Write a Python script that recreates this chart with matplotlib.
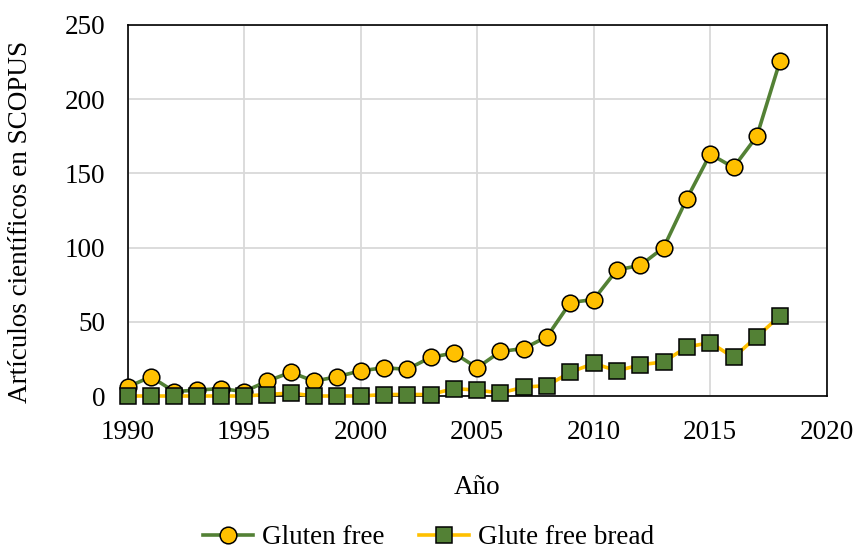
import matplotlib
matplotlib.use("Agg")
import matplotlib.pyplot as plt

plt.rcParams['font.family'] = ['Liberation Serif', 'DejaVu Serif']

years = list(range(1990, 2019))
gluten_free = [6, 13, 3, 4, 5, 3, 10, 16, 10, 13, 17, 19, 18, 26, 29, 19,
               30, 32, 40, 63, 65, 85, 88, 100, 133, 163, 154, 175, 226]
gluten_free_bread = [0, 0, 0, 0, 0, 0, 1, 2, 0, 0, 0, 1, 1, 1, 5, 4,
                     2, 6, 7, 16, 22, 17, 21, 23, 33, 36, 26, 40, 54]

green = '#538135'
yellow = '#FFC000'
fs = 19.5

fig = plt.figure(figsize=(8.57, 5.53), dpi=100)
ax = fig.add_axes([0.1488, 0.2839, 0.8159, 0.6709])

ax.plot(years, gluten_free, color=green, lw=2.6, marker='o', ms=12,
        mfc=yellow, mec='black', mew=1.1, label='Gluten free', zorder=3,
        clip_on=False)
ax.plot(years, gluten_free_bread, color=yellow, lw=2.6, marker='s', ms=11.5,
        mfc=green, mec='black', mew=1.1, label='Glute free bread', zorder=4,
        clip_on=False)

ax.set_xlim(1990, 2020)
ax.set_ylim(0, 250)
ax.set_xticks(range(1990, 2021, 5))
ax.set_yticks(range(0, 251, 50))
ax.grid(True, color='#D9D9D9', lw=1.3)
ax.set_axisbelow(True)
for s in ax.spines.values():
    s.set_color('black')
    s.set_linewidth(1.2)
ax.tick_params(length=0, labelsize=fs)
ax.tick_params(axis='x', pad=17)
ax.tick_params(axis='y', pad=16)

ax.set_xlabel('Año', fontsize=fs, labelpad=22)
ax.set_ylabel('Artículos científicos en SCOPUS', fontsize=fs)
ax.yaxis.set_label_coords(-0.135, 0.47)

fig.legend(loc='center', bbox_to_anchor=(0.5, 0.028), ncol=2, frameon=False,
           fontsize=fs, handlelength=1.85, columnspacing=1.3, handletextpad=0.3,
           borderpad=0.2)

fig.savefig('out.png', dpi=100)
